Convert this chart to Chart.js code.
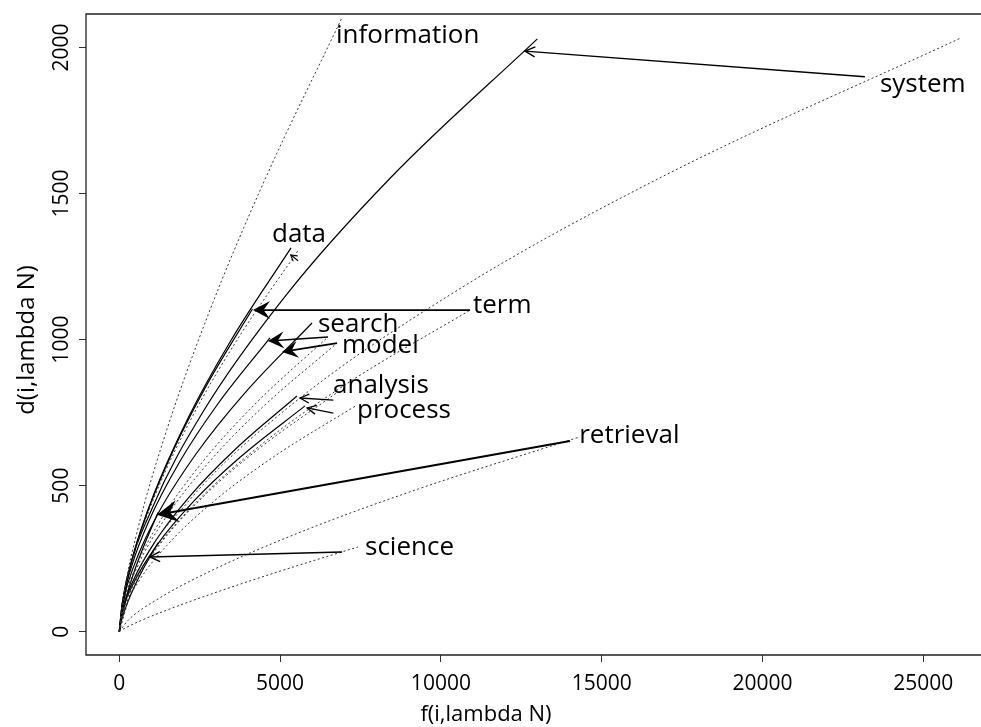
<!DOCTYPE html>
<html>
<head>
<meta charset="utf-8">
<script src="https://cdn.jsdelivr.net/npm/chart.js@4.4.1/dist/chart.umd.min.js"></script>
<style>
  html, body { margin: 0; padding: 0; background: #fff; }
  #wrap { width: 981px; height: 727px; }
</style>
</head>
<body>
<div id="wrap"><canvas id="myChart" width="981" height="727"></canvas></div>
<script>
// f(i,lambda N) against d(i,lambda N)
const plotFont = "'Open Sans', 'DejaVu Sans', sans-serif";

const xTicks = [0, 5000, 10000, 15000, 20000, 25000];
const yTicks = [0, 500, 1000, 1500, 2000];

// solid curves
const solidSystemF = [0, 260, 1040, 2600, 5200, 8450, 13000];
const solidSystemD = [0, 182, 427, 752, 1154, 1556, 2030];
const solidDataF = [0, 107, 427, 1068, 2136, 3471, 5340];
const solidDataD = [0, 107, 261, 469, 731, 997, 1314];
const solidTermF = [0, 83, 331, 828, 1656, 2691, 4140];
const solidTermD = [0, 90, 219, 395, 615, 839, 1105];
const solidSearchF = [0, 94, 375, 937, 1874, 3046, 4686];
const solidSearchD = [0, 96, 221, 383, 581, 777, 1006];
const solidModelF = [0, 120, 479, 1199, 2397, 3895, 5993];
const solidModelD = [0, 101, 232, 403, 610, 816, 1057];
const solidAnalysisF = [0, 111, 442, 1105, 2210, 3592, 5526];
const solidAnalysisD = [0, 77, 177, 307, 466, 623, 807];
const solidProcessF = [0, 116, 462, 1155, 2310, 3754, 5775];
const solidProcessD = [0, 74, 170, 294, 446, 597, 773];
const solidRetrievalF = [0, 24, 96, 241, 482, 784, 1206];
const solidRetrievalD = [0, 24, 66, 128, 211, 299, 408];
const solidScienceF = [0, 24, 96, 241, 482, 784, 1206];
const solidScienceD = [0, 18, 49, 95, 157, 223, 304];

// dotted curves
const dotInformationF = [0, 138, 553, 1383, 2766, 4495, 6915];
const dotInformationD = [0, 126, 341, 659, 1086, 1540, 2100];
const dotSystemF = [0, 523, 2094, 5234, 10468, 17011, 26170];
const dotSystemD = [0, 189, 439, 766, 1166, 1565, 2033];
const dotTermF = [0, 218, 872, 2181, 4362, 7089, 10906];
const dotTermD = [0, 105, 242, 419, 636, 850, 1101];
const dotRetrievalF = [0, 286, 1146, 2865, 5730, 9311, 14324];
const dotRetrievalD = [0, 40, 108, 209, 345, 489, 667];
const dotScienceF = [0, 148, 594, 1484, 2969, 4824, 7422];
const dotScienceD = [0, 10, 34, 74, 133, 201, 290];
const dotDataF = [0, 112, 447, 1118, 2236, 3634, 5590];
const dotDataD = [0, 107, 260, 468, 729, 994, 1310];
const dotSearchF = [0, 130, 519, 1298, 2596, 4219, 6490];
const dotSearchD = [0, 96, 222, 384, 582, 779, 1009];
const dotModelF = [0, 135, 542, 1354, 2708, 4401, 6770];
const dotModelD = [0, 94, 217, 376, 570, 763, 988];
const dotAnalysisF = [0, 135, 539, 1348, 2696, 4380, 6739];
const dotAnalysisD = [0, 78, 179, 311, 471, 630, 816];
const dotProcessF = [0, 148, 591, 1478, 2957, 4805, 7392];
const dotProcessD = [0, 74, 170, 295, 448, 599, 776];

// arrows: from (label side) -> to (point on the solid curve)
const arrowTerms = ['system', 'term', 'search', 'model', 'analysis', 'process', 'retrieval', 'science', 'data'];
const arrowFromF = [23184, 10906, 6490, 6770, 6655, 6655, 14014, 6925, 5560];
const arrowFromD = [1900, 1101, 1009, 988, 793, 748, 653, 273, 1270];
const arrowToF = [12615, 4158, 4624, 5060, 5620, 5840, 1172, 954, 5330];
const arrowToD = [1988, 1101, 995, 958, 800, 766, 400, 256, 1290];

// word labels (left end of the baseline)
const labelText = ['information', 'system', 'data', 'term', 'search', 'model', 'analysis', 'process', 'retrieval', 'science'];
const labelF = [6738, 23650, 4748, 10998, 6178, 6925, 6645, 7391, 14300, 7640];
const labelD = [2016, 1848, 1335, 1091, 1026, 954, 817, 732, 646, 263];

// arrow head look: [length, half width, kind, line width]
const headStyle = {
  system: [10, 5, 'open', 1.4],
  term: [17, 9, 'fill', 1.8],
  search: [16, 8.5, 'fill', 1.6],
  model: [16, 8.5, 'fill', 1.6],
  analysis: [9, 4.5, 'open', 1.3],
  process: [9, 4.5, 'open', 1.3],
  retrieval: [21, 11, 'fill', 1.9],
  science: [10, 5, 'open', 1.5],
  data: [6, 3.5, 'open', 1.1]
};

const curves = [
  [dotInformationF, dotInformationD, true],
  [dotSystemF, dotSystemD, true],
  [dotTermF, dotTermD, true],
  [dotRetrievalF, dotRetrievalD, true],
  [dotScienceF, dotScienceD, true],
  [dotDataF, dotDataD, true],
  [dotSearchF, dotSearchD, true],
  [dotModelF, dotModelD, true],
  [dotAnalysisF, dotAnalysisD, true],
  [dotProcessF, dotProcessD, true],
  [solidSystemF, solidSystemD, false],
  [solidDataF, solidDataD, false],
  [solidTermF, solidTermD, false],
  [solidSearchF, solidSearchD, false],
  [solidModelF, solidModelD, false],
  [solidAnalysisF, solidAnalysisD, false],
  [solidProcessF, solidProcessD, false],
  [solidRetrievalF, solidRetrievalD, false],
  [solidScienceF, solidScienceD, false]
];

const datasets = curves.map(([fs, ds, dotted]) => ({
  data: fs.map((f, i) => ({ x: f, y: ds[i] })),
  showLine: true,
  pointRadius: 0,
  borderColor: dotted ? '#333' : '#000',
  borderWidth: dotted ? 1 : 1.2,
  borderDash: dotted ? [2, 2.5] : [],
  cubicInterpolationMode: 'monotone',
  fill: false
}));

const overlay = {
  id: 'overlay',
  afterDatasetsDraw(chart) {
    const { ctx, scales: { x, y } } = chart;
    ctx.save();
    arrowTerms.forEach((t, i) => {
      const x1 = x.getPixelForValue(arrowFromF[i]), y1 = y.getPixelForValue(arrowFromD[i]);
      const x2 = x.getPixelForValue(arrowToF[i]), y2 = y.getPixelForValue(arrowToD[i]);
      const [len, half, kind, lw] = headStyle[t];
      const a = Math.atan2(y2 - y1, x2 - x1);
      const ux = Math.cos(a), uy = Math.sin(a);
      ctx.strokeStyle = '#000';
      ctx.fillStyle = '#000';
      ctx.lineWidth = lw;
      ctx.beginPath();
      ctx.moveTo(x1, y1);
      const back = kind === 'fill' ? len * 0.5 : 0;
      ctx.lineTo(x2 - ux * back, y2 - uy * back);
      ctx.stroke();
      const bx = x2 - ux * len, by = y2 - uy * len;
      const lx = bx - uy * half, ly = by + ux * half;
      const rx = bx + uy * half, ry = by - ux * half;
      ctx.beginPath();
      if (kind === 'fill') {
        ctx.moveTo(x2, y2);
        ctx.lineTo(lx, ly);
        ctx.lineTo(x2 - ux * len * 0.62, y2 - uy * len * 0.62);
        ctx.lineTo(rx, ry);
        ctx.closePath();
        ctx.fill();
      } else {
        ctx.moveTo(lx, ly);
        ctx.lineTo(x2, y2);
        ctx.lineTo(rx, ry);
        ctx.stroke();
      }
    });

    ctx.font = '26px ' + plotFont;
    ctx.fillStyle = '#000';
    ctx.textAlign = 'left';
    ctx.textBaseline = 'alphabetic';
    labelText.forEach((s, i) => {
      ctx.fillText(s, x.getPixelForValue(labelF[i]), y.getPixelForValue(labelD[i]));
    });
    ctx.restore();
  },
  afterDraw(chart) {
    const { ctx, chartArea: a, scales: { x, y } } = chart;
    ctx.save();
    ctx.strokeStyle = '#222';
    ctx.lineWidth = 1.3;
    ctx.beginPath();
    ctx.moveTo(a.right, a.top);
    ctx.lineTo(a.left, a.top);
    ctx.lineTo(a.left, a.bottom);
    ctx.lineTo(a.right, a.bottom);
    ctx.stroke();

    ctx.fillStyle = '#000';
    ctx.font = '21px ' + plotFont;
    ctx.textAlign = 'center';
    ctx.textBaseline = 'alphabetic';
    xTicks.forEach(v => ctx.fillText(String(v), x.getPixelForValue(v), a.bottom + 35));
    yTicks.forEach(v => {
      ctx.save();
      ctx.translate(a.left - 18, y.getPixelForValue(v));
      ctx.rotate(-Math.PI / 2);
      ctx.fillText(String(v), 0, 0);
      ctx.restore();
    });

    // axis titles
    ctx.font = '22px ' + plotFont;
    ctx.fillText('f(i,lambda N)', 486, 721);
    ctx.save();
    ctx.font = '24px ' + plotFont;
    ctx.translate(34, 340);
    ctx.rotate(-Math.PI / 2);
    ctx.fillText('d(i,lambda N)', 0, 0);
    ctx.restore();
    ctx.restore();
  }
};

const ctx = document.getElementById('myChart');

new Chart(ctx, {
  type: 'scatter',
  data: { datasets: datasets },
  options: {
    responsive: false,
    devicePixelRatio: 1,
    animation: false,
    layout: { padding: { top: 14, right: 0, bottom: 0, left: 0 } },
    plugins: {
      legend: { display: false },
      tooltip: { enabled: false }
    },
    scales: {
      x: {
        type: 'linear',
        min: -1035,
        max: 26794,
        afterBuildTicks: (s) => { s.ticks = xTicks.map(v => ({ value: v })); },
        ticks: { display: false },
        grid: { drawOnChartArea: false, drawTicks: true, tickLength: 7, color: '#333' },
        border: { display: false },
        afterFit: (s) => { s.height = 72; }
      },
      y: {
        type: 'linear',
        min: -80,
        max: 2115,
        afterBuildTicks: (s) => { s.ticks = yTicks.map(v => ({ value: v })); },
        ticks: { display: false },
        grid: { drawOnChartArea: false, drawTicks: true, tickLength: 7, color: '#333' },
        border: { display: false },
        afterFit: (s) => { s.width = 86; }
      }
    }
  },
  plugins: [overlay]
});
</script>
</body>
</html>
